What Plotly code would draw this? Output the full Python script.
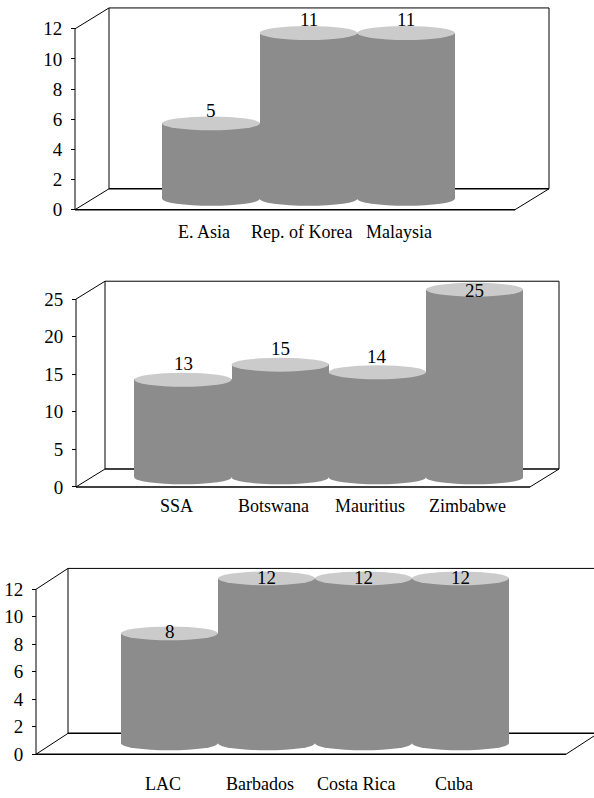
import plotly.graph_objects as go

# ---- data -------------------------------------------------------------
cats_asia = ["E. Asia", "Rep. of Korea", "Malaysia"]
vals_asia = [5, 11, 11]
ticks_asia = [0, 2, 4, 6, 8, 10, 12]

cats_africa = ["SSA", "Botswana", "Mauritius", "Zimbabwe"]
vals_africa = [13, 15, 14, 25]
ticks_africa = [0, 5, 10, 15, 20, 25]

cats_lac = ["LAC", "Barbados", "Costa Rica", "Cuba"]
vals_lac = [8, 12, 12, 12]
ticks_lac = [0, 2, 4, 6, 8, 10, 12]

# ---- styling / geometry -------------------------------------------------
W, H = 594, 798
BODY = "#8c8c8c"
TOP = "#cbcbcb"
FONT = "Liberation Serif"
FSIZE = 18      # category labels
NSIZE = 19      # numbers (ticks and value labels)

# pixel geometry of each pseudo-3D panel
panels = [
    dict(cats=cats_asia, vals=vals_asia, ticks=ticks_asia,
         fx0=75, fy0=211, yscale=182 / 12, dx=34, dy=21, xr=515,
         c0=211, sp=97.5, base_px=11, lab_below=22, val_off=13),
    dict(cats=cats_africa, vals=vals_africa, ticks=ticks_africa,
         fx0=76, fy0=490, yscale=189 / 25, dx=29, dy=18, xr=530,
         c0=183, sp=97.2, base_px=9.6, lab_below=19, val_off=16),
    dict(cats=cats_lac, vals=vals_lac, ticks=ticks_lac,
         fx0=36, fy0=759, yscale=166 / 12, dx=32, dy=21, xr=566,
         c0=169.5, sp=97, base_px=11, lab_below=30, val_off=2),
]

fig = go.Figure()
shapes = []
annotations = []
layout_axes = {}

for k, p in enumerate(panels, start=1):
    xa = "x" if k == 1 else f"x{k}"
    ya = "y" if k == 1 else f"y{k}"
    xkey = "xaxis" if k == 1 else f"xaxis{k}"
    ykey = "yaxis" if k == 1 else f"yaxis{k}"

    sp, sy = p["sp"], p["yscale"]
    ytop = max(p["ticks"])
    n = len(p["vals"])

    # axis ranges so that data units land on the panel's pixel box
    dom_left_px = p["fx0"] - 8
    xmin = (dom_left_px - p["c0"]) / sp
    xmax = (W - p["c0"]) / sp
    back_top_px = p["fy0"] - ytop * sy - p["dy"]
    top_px = back_top_px - 6
    bot_px = p["fy0"] + 6
    ymin = -(bot_px - p["fy0"]) / sy
    ymax = (p["fy0"] - top_px) / sy

    layout_axes[xkey] = dict(domain=[dom_left_px / W, 1], range=[xmin, xmax],
                             visible=False, anchor=ya, fixedrange=True)
    layout_axes[ykey] = dict(domain=[1 - bot_px / H, 1 - top_px / H],
                             range=[ymin, ymax], anchor="free",
                             position=p["fx0"] / W,
                             tickmode="array", tickvals=p["ticks"],
                             ticks="outside", ticklen=4, tickcolor="black",
                             tickwidth=1, ticklabelstandoff=5,
                             showgrid=False, zeroline=False, showline=False,
                             tickfont=dict(family=FONT, size=NSIZE, color="black"),
                             fixedrange=True)

    # frame of the 3D box (front edges + back wall)
    xl = (p["fx0"] - p["c0"]) / sp
    xr = (p["xr"] - p["c0"]) / sp
    dxu = p["dx"] / sp
    dyu = p["dy"] / sy
    edges = [
        ((xl, 0), (xl, ytop), 1),
        ((xl, ytop), (xl + dxu, ytop + dyu), 1),
        ((xl, 0), (xl + dxu, dyu), 1),
        ((xl + dxu, dyu), (xl + dxu, ytop + dyu), 1),
        ((xl + dxu, ytop + dyu), (xr + dxu, ytop + dyu), 1),
        ((xr + dxu, dyu), (xr + dxu, ytop + dyu), 1),
        ((xl + dxu, dyu), (xr + dxu, dyu), 1.5),
        ((xl, 0), (xr, 0), 1.5),
        ((xr, 0), (xr + dxu, dyu), 1),
    ]
    for (x0, y0), (x1, y1), w in edges:
        shapes.append(dict(type="line", xref=xa, yref=ya, x0=x0, y0=y0,
                           x1=x1, y1=y1, layer="below",
                           line=dict(color="black", width=w)))

    # cylinders: bar body + elliptical base and lid
    base_u = p["base_px"] / sy
    ry = 7 / sy
    fig.add_trace(go.Bar(x=list(range(n)), y=p["vals"], base=[base_u] * n,
                         width=1.0, xaxis=xa, yaxis=ya,
                         marker=dict(color=BODY, line=dict(width=0)),
                         hoverinfo="skip", showlegend=False))
    for i, v in enumerate(p["vals"]):
        shapes.append(dict(type="circle", xref=xa, yref=ya,
                           x0=i - 0.5, x1=i + 0.5,
                           y0=base_u - ry, y1=base_u + ry, layer="below",
                           fillcolor=BODY, line=dict(width=0)))
        top = base_u + v
        shapes.append(dict(type="circle", xref=xa, yref=ya,
                           x0=i - 0.5, x1=i + 0.5,
                           y0=top - ry, y1=top + ry, layer="above",
                           fillcolor=TOP, line=dict(width=0)))
        # value label above the lid, kept inside the box
        ell_px = p["fy0"] - top * sy
        lab_px = max(ell_px - p["val_off"], back_top_px + 9)
        annotations.append(dict(x=i, y=top, xref=xa, yref=ya, text=str(v),
                                showarrow=False, yanchor="middle",
                                yshift=ell_px - lab_px,
                                font=dict(family=FONT, size=NSIZE, color="black")))
        # category label under the box
        annotations.append(dict(x=i, y=0, xref=xa, yref=ya, text=p["cats"][i],
                                showarrow=False, yanchor="middle",
                                yshift=-p["lab_below"], xshift=-7,
                                font=dict(family=FONT, size=FSIZE, color="black")))

fig.update_layout(width=W, height=H, margin=dict(l=0, r=0, t=0, b=0),
                  paper_bgcolor="white", plot_bgcolor="rgba(0,0,0,0)",
                  showlegend=False, bargap=0, shapes=shapes,
                  annotations=annotations, **layout_axes)

fig.write_html("out.html")
